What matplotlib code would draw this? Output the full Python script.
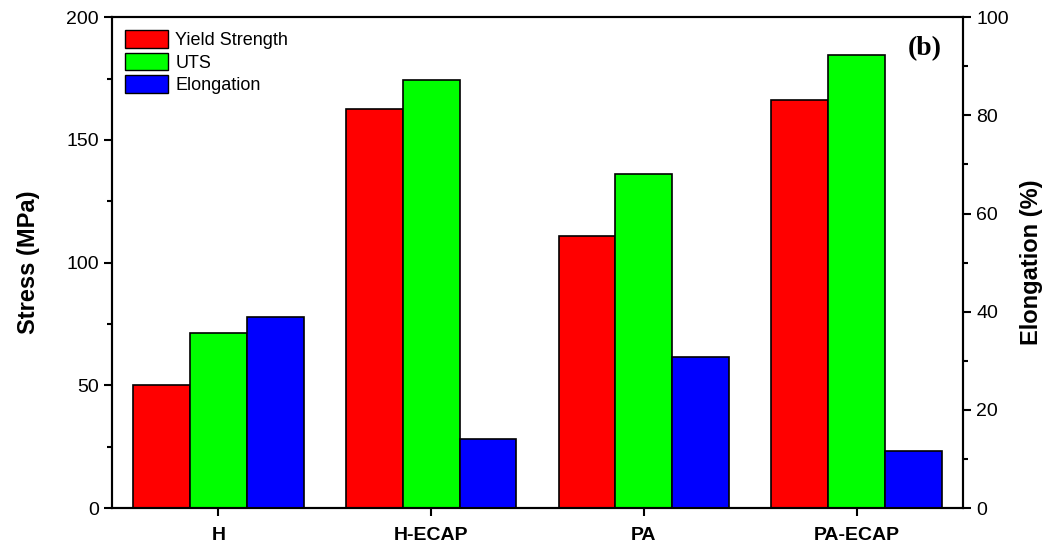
import numpy as np
import matplotlib
matplotlib.use("Agg")
import matplotlib.pyplot as plt
from matplotlib.ticker import MultipleLocator
from matplotlib.patches import Patch

# ---- data ----
samples = ["H", "H-ECAP", "PA", "PA-ECAP"]
yield_strength = [50.2, 162.6, 110.8, 166.2]   # MPa
uts = [71.2, 174.5, 136.3, 184.5]              # MPa
elongation = [39.0, 14.0, 30.8, 11.7]          # %

RED, GREEN, BLUE = "#ff0000", "#00ff00", "#0000ff"
plt.rcParams.update({"font.family": "Liberation Sans", "axes.linewidth": 1.5})

fig = plt.figure(figsize=(10.49, 5.54), dpi=100)
ax = fig.add_axes([0.1068, 0.083, 0.8112, 0.886])
ax2 = ax.twinx()

x = np.arange(len(samples))
w = 0.267
ax.bar(x - w, yield_strength, w, color=RED, edgecolor="black", lw=1.2)
ax.bar(x, uts, w, color=GREEN, edgecolor="black", lw=1.2)
ax2.bar(x + w, elongation, w, color=BLUE, edgecolor="black", lw=1.2)

ax.set_xlim(-0.5, 3.5)
ax.set_ylim(0, 200)
ax2.set_ylim(0, 100)
ax.set_xticks(x)
ax.set_xticklabels(samples, fontweight="bold", fontsize=13)
ax.yaxis.set_major_locator(MultipleLocator(50))
ax.yaxis.set_minor_locator(MultipleLocator(25))
ax2.yaxis.set_major_locator(MultipleLocator(20))
ax2.yaxis.set_minor_locator(MultipleLocator(10))

for a in (ax, ax2):
    a.tick_params(which="major", length=6, width=1.5, labelsize=14, direction="out")
    a.tick_params(which="minor", length=3.5, width=1.5, direction="out")
ax.tick_params(axis="x", length=6, pad=8)

ax.set_ylabel("Stress (MPa)", fontsize=17, fontweight="bold", labelpad=19)
ax2.set_ylabel("Elongation (%)", fontsize=17, fontweight="bold", labelpad=8)

ax.text(0.975, 0.935, "(b)", transform=ax.transAxes, ha="right", va="center",
        fontsize=20, fontweight="bold", family="Liberation Serif")

handles = [Patch(facecolor=RED, edgecolor="black", label="Yield Strength"),
           Patch(facecolor=GREEN, edgecolor="black", label="UTS"),
           Patch(facecolor=BLUE, edgecolor="black", label="Elongation")]
ax2.legend(handles=handles, loc="upper left", frameon=False, fontsize=13,
           handlelength=2.4, handleheight=1.15, handletextpad=0.4,
           labelspacing=0.2, borderaxespad=0.3, bbox_to_anchor=(0.0, 1.0))

fig.savefig("out.png", dpi=100)
